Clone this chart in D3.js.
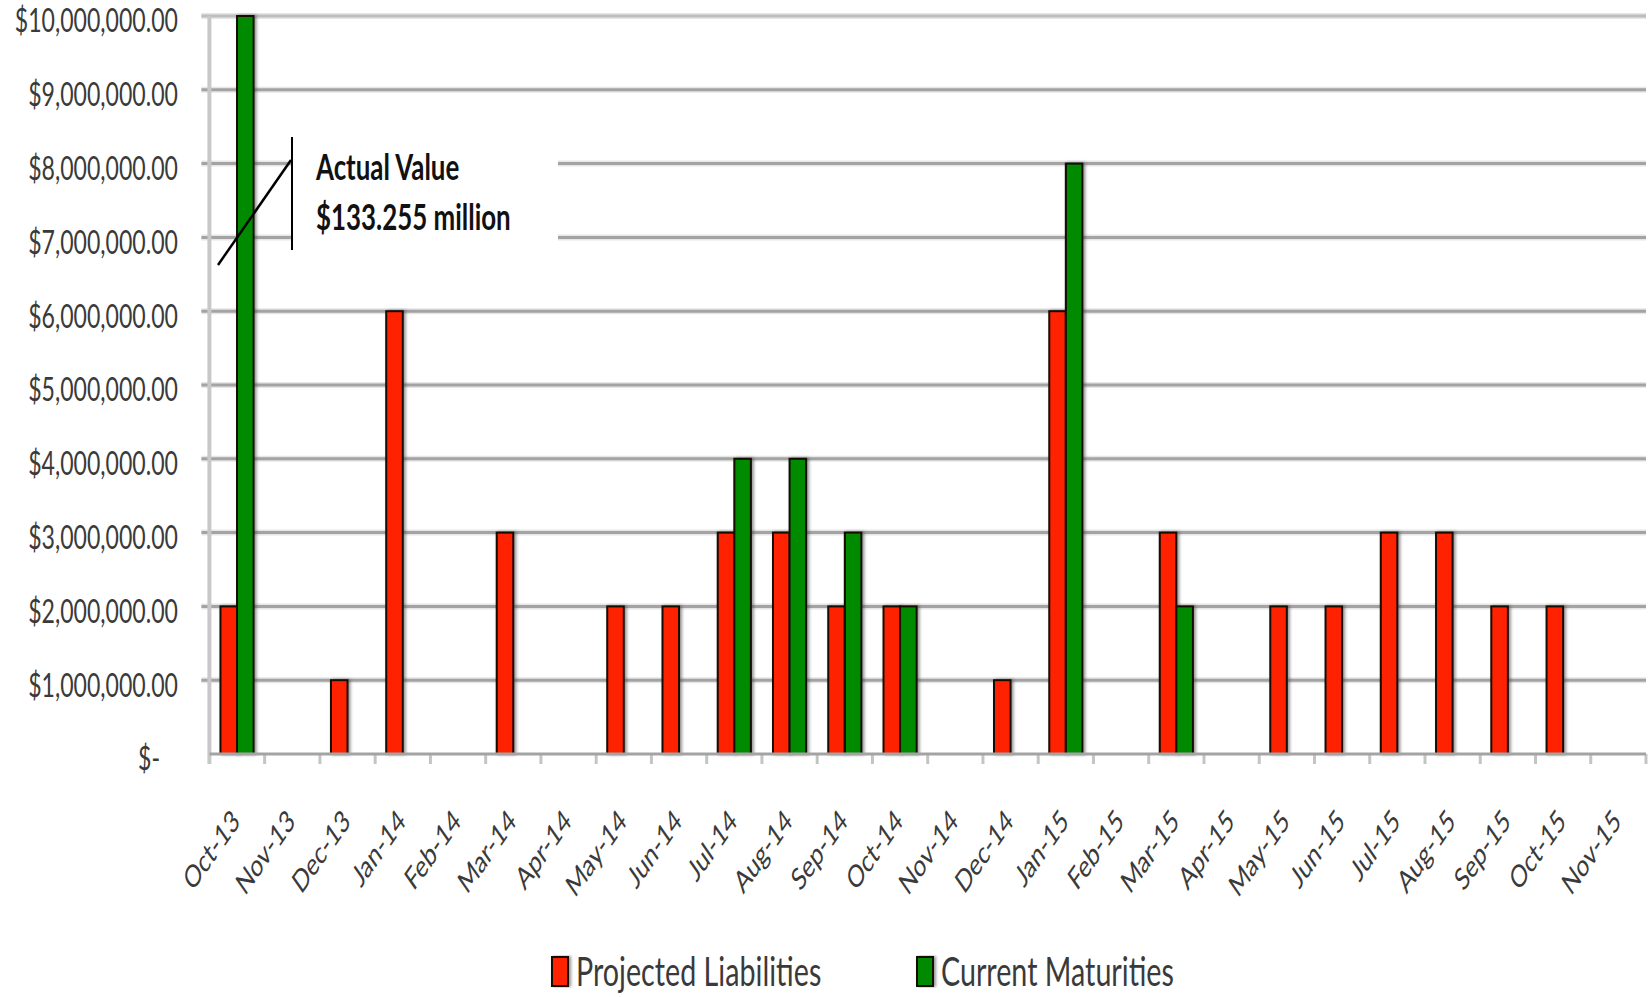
<!DOCTYPE html>
<html>
<head>
<meta charset="utf-8">
<script src="https://cdn.jsdelivr.net/npm/d3@7"></script>
<style>
  html, body { margin: 0; padding: 0; background: #ffffff; }
  svg { display: block; }
</style>
</head>
<body>
<svg id="chart" width="1652" height="997"></svg>
<script>
// Monthly categories along the x axis
const months = [
  "Oct-13", "Nov-13", "Dec-13", "Jan-14", "Feb-14", "Mar-14", "Apr-14",
  "May-14", "Jun-14", "Jul-14", "Aug-14", "Sep-14", "Oct-14", "Nov-14",
  "Dec-14", "Jan-15", "Feb-15", "Mar-15", "Apr-15", "May-15", "Jun-15",
  "Jul-15", "Aug-15", "Sep-15", "Oct-15", "Nov-15"
];

// Series names (legend order)
const seriesNames = ["Projected Liabilities", "Current Maturities"];

// Projected Liabilities, dollars per month
const projectedLiabilities = [
  2000000, 0, 1000000, 6000000, 0, 3000000, 0,
  2000000, 2000000, 3000000, 3000000, 2000000, 2000000, 0,
  1000000, 6000000, 0, 3000000, 0, 2000000, 2000000,
  3000000, 3000000, 2000000, 2000000, 0
];

// Current Maturities, dollars per month (Oct-13 runs off the top of the axis)
const currentMaturities = [
  133255000, 0, 0, 0, 0, 0, 0,
  0, 0, 4000000, 4000000, 3000000, 2000000, 0,
  0, 8000000, 0, 2000000, 0, 0, 0,
  0, 0, 0, 0, 0
];

// Value-axis ticks
const yTickValues = [0, 1000000, 2000000, 3000000, 4000000, 5000000,
  6000000, 7000000, 8000000, 9000000, 10000000];

// Callout for the broken bar
const calloutLines = ["Actual Value", "$133.255 million"];

const seriesColors = ["#ff2200", "#008a00"];

// ---- layout ----
const svg = d3.select("#chart");
const plot = { left: 209.4, right: 1646, top: 16, bottom: 754 };
const SX = 0.7;                       // horizontal squeeze applied to all text
const FONT = "Lato, 'Open Sans', 'Liberation Sans', sans-serif";

const defs = svg.append("defs");
const shadow = defs.append("filter").attr("id", "barShadow")
  .attr("x", "-50%").attr("y", "-5%").attr("width", "200%").attr("height", "110%");
shadow.append("feDropShadow").attr("dx", 2).attr("dy", 0)
  .attr("stdDeviation", 1.6).attr("flood-color", "#404040").attr("flood-opacity", 0.55);

const y = d3.scaleLinear()
  .domain([0, d3.max(yTickValues)])
  .range([plot.bottom, plot.top])
  .clamp(true);

const x0 = d3.scaleBand()
  .domain(months)
  .range([plot.left, plot.right])
  .paddingInner(0.4)
  .paddingOuter(0.2);

const x1 = d3.scaleBand()
  .domain(seriesNames)
  .range([0, x0.bandwidth()]);

// ---- horizontal gridlines (with short ticks left of the axis) ----
const grid = svg.append("g");
grid.selectAll("line.halo")
  .data(yTickValues.filter(v => v > 0))
  .join("line")
  .attr("x1", plot.left - 8).attr("x2", plot.right)
  .attr("y1", d => y(d)).attr("y2", d => y(d))
  .attr("stroke", "#e6e6e6").attr("stroke-width", 6);
grid.selectAll("line.major")
  .data(yTickValues.filter(v => v > 0))
  .join("line")
  .attr("class", "major")
  .attr("x1", plot.left - 8).attr("x2", plot.right)
  .attr("y1", d => y(d)).attr("y2", d => y(d))
  .attr("stroke", d => d === d3.max(yTickValues) ? "#bdbdbd" : "#a3a3a3")
  .attr("stroke-width", 3);

// ---- value-axis labels ----
const fmt = d3.format("$,.2f");
const yLabels = svg.append("g");
yLabels.selectAll("text")
  .data(yTickValues)
  .join("text")
  .attr("transform", d => `translate(${d === 0 ? 160 : 178},${y(d) + 8}) scale(${SX},1)`)
  .attr("text-anchor", "end")
  .attr("dominant-baseline", "middle")
  .attr("font-family", FONT)
  .attr("font-size", 33)
  .attr("fill", "#3a3a3a")
  .text(d => d === 0 ? "$-" : fmt(d));

// ---- vertical axis line ----
svg.append("line")
  .attr("x1", plot.left).attr("x2", plot.left)
  .attr("y1", plot.top).attr("y2", plot.bottom + 10)
  .attr("stroke", "#c8c8c8").attr("stroke-width", 4);

// ---- category ticks ----
const step = x0.step();
const boundaries = months.map(m => x0(m) + x0.bandwidth() / 2 - step / 2);
boundaries.push(boundaries[boundaries.length - 1] + step);
svg.append("g").selectAll("line")
  .data(boundaries.slice(1))
  .join("line")
  .attr("x1", d => d).attr("x2", d => d)
  .attr("y1", plot.bottom).attr("y2", plot.bottom + 10)
  .attr("stroke", "#c4c4c4").attr("stroke-width", 3);

// ---- callout backing (masks the gridlines behind the text) ----
svg.append("rect")
  .attr("x", 293).attr("y", 128)
  .attr("width", 265).attr("height", 130)
  .attr("fill", "#ffffff");

// ---- bars ----
const rows = months.map((m, i) => ({
  month: m,
  values: [
    { key: seriesNames[0], value: projectedLiabilities[i], color: seriesColors[0] },
    { key: seriesNames[1], value: currentMaturities[i], color: seriesColors[1] }
  ]
}));

const groups = svg.append("g").selectAll("g")
  .data(rows)
  .join("g")
  .attr("transform", d => `translate(${x0(d.month)},0)`);

groups.selectAll("rect")
  .data(d => d.values.filter(v => v.value > 0))
  .join("rect")
  .attr("x", d => x1(d.key))
  .attr("y", d => y(d.value))
  .attr("width", x1.bandwidth())
  .attr("height", d => y(0) - y(d.value))
  .attr("fill", d => d.color)
  .attr("stroke", "#150800")
  .attr("stroke-width", 2)
  .attr("filter", "url(#barShadow)");

// ---- category axis baseline ----
svg.append("line")
  .attr("x1", plot.left).attr("x2", plot.right)
  .attr("y1", plot.bottom).attr("y2", plot.bottom)
  .attr("stroke", "#a3a3a3").attr("stroke-width", 3);

// ---- month labels ----
svg.append("g").selectAll("text")
  .data(months)
  .join("text")
  .attr("transform", d => `translate(${x0(d) + x0.bandwidth() / 2 + 4},${plot.bottom + 69}) scale(${SX},1) rotate(-45)`)
  .attr("text-anchor", "end")
  .attr("font-family", FONT)
  .attr("font-size", 31)
  .attr("fill", "#3a3a3a")
  .text(d => d);

// ---- axis break marks and callout ----
const callout = svg.append("g");
callout.append("line")
  .attr("x1", 292).attr("x2", 292)
  .attr("y1", 137).attr("y2", 250)
  .attr("stroke", "#000").attr("stroke-width", 2);
callout.append("line")
  .attr("x1", 218).attr("y1", 265)
  .attr("x2", 291).attr("y2", 160)
  .attr("stroke", "#000").attr("stroke-width", 2.5);
callout.selectAll("text")
  .data(calloutLines)
  .join("text")
  .attr("transform", (d, i) => `translate(316,${180 + i * 50}) scale(${SX},1)`)
  .attr("font-family", FONT)
  .attr("font-weight", 700)
  .attr("font-size", 37)
  .attr("fill", "#111")
  .text(d => d);

// ---- legend ----
const legendX = [552, 917];
const legend = svg.append("g").selectAll("g")
  .data(seriesNames)
  .join("g")
  .attr("transform", (d, i) => `translate(${legendX[i]},957)`);
legend.append("rect")
  .attr("x", 0).attr("y", 0)
  .attr("width", 16).attr("height", 29)
  .attr("fill", (d, i) => seriesColors[i])
  .attr("stroke", "#150800").attr("stroke-width", 2)
  .attr("filter", "url(#barShadow)");
legend.append("text")
  .attr("transform", `translate(24,29) scale(${SX},1)`)
  .attr("font-family", FONT)
  .attr("font-size", 41)
  .attr("fill", "#3a3a3a")
  .text(d => d);
</script>
</body>
</html>
